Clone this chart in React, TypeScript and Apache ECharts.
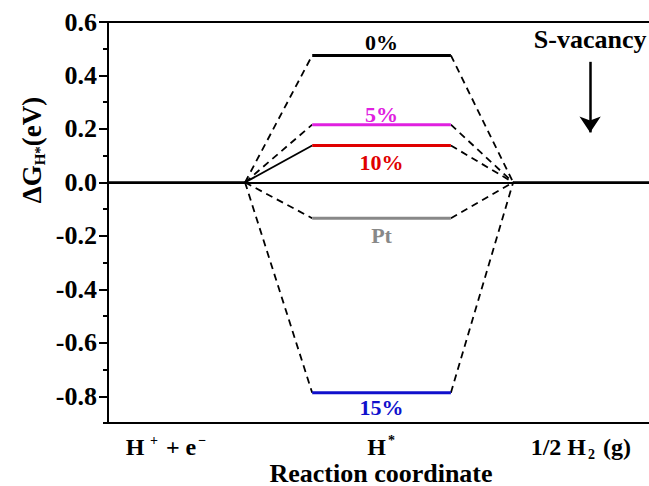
import React, { useEffect, useRef } from "react";
import * as echarts from "echarts";

// Reaction-coordinate stage positions (x, arbitrary units)
const xMin = 0;
const xMax = 10;
const junctionLeft = 2.51;
const levelStart = 3.74;
const levelEnd = 6.28;
const junctionRight = 7.42;

// Stage tick labels
const stageTickX = [1.08, 5.02, 8.66];
const stageTickLabels = ["{m|H}{sup| +}{m| + e}{sup|−}", "{m|H}{sup|*}", "{m|1/2 H}{sub|2}{m| (g)}"];

// ΔG_H* levels (eV)
const levelNames = ["0%", "5%", "10%", "Pt", "15%"];
const levelValues = [0.475, 0.216, 0.138, -0.134, -0.787];
const levelColors = ["#000000", "#e020e0", "#e00000", "#888888", "#1010cc"];
const leftSolid = [false, false, true, false, false];
const labelAbove = [true, true, false, false, false];
const labelGap = [2, -1, 6, 6, 4];

// Y axis ticks
const yMin = -0.9;
const yMax = 0.6;
const yMajorTicks = [-0.8, -0.6, -0.4, -0.2, 0.0, 0.2, 0.4, 0.6];

// S-vacancy annotation
const annotX = 8.83;
const annotTextY = 0.534;
const arrowFromY = 0.451;
const arrowToY = 0.187;

const FONT = '"Liberation Serif", "Times New Roman", serif';

export default function App() {
  const ref = useRef<HTMLDivElement>(null);
  useEffect(() => {
    document.body.style.margin = "0";
    const chart = echarts.init(ref.current!, null, { renderer: "svg" });
    const series: any[] = [];
    series.push({
      type: "line",
      data: [[xMin, 0], [junctionLeft, 0]],
      symbol: "none",
      lineStyle: { color: "#000", width: 2.5 },
    });
    series.push({
      type: "line",
      data: [[junctionRight, 0], [xMax, 0]],
      symbol: "none",
      lineStyle: { color: "#000", width: 2.5 },
    });
    levelValues.forEach((v, i) => {
      series.push({
        type: "line",
        data: [[junctionLeft, 0], [levelStart, v]],
        symbol: "none",
        lineStyle: { color: "#000", width: 1.8, type: leftSolid[i] ? "solid" : [7, 5] },
      });
      series.push({
        type: "line",
        data: [[levelEnd, v], [junctionRight, 0]],
        symbol: "none",
        lineStyle: { color: "#000", width: 1.8, type: [7, 5] },
      });
    });
    levelValues.forEach((v, i) => {
      series.push({
        type: "line",
        data: [[levelStart, v], [levelEnd, v]],
        symbol: "none",
        lineStyle: { color: levelColors[i], width: 3 },
      });
    });
    series.push({
      type: "scatter",
      symbolSize: 0,
      itemStyle: { opacity: 1 },
      data: levelValues.map((v, i) => ({
        value: [(levelStart + levelEnd) / 2, v],
        label: {
          show: true,
          formatter: levelNames[i],
          position: labelAbove[i] ? "top" : "bottom",
          distance: labelGap[i],
          color: levelColors[i],
          opacity: 1,
          fontFamily: FONT,
          fontWeight: "bold",
          fontSize: 22,
        },
      })),
    });
    series.push({
      type: "scatter",
      symbolSize: 0,
      itemStyle: { opacity: 1 },
      data: [
        {
          value: [annotX, annotTextY],
          label: {
            show: true,
            formatter: "S-vacancy",
            position: "inside",
            color: "#000",
            opacity: 1,
            fontFamily: FONT,
            fontWeight: "bold",
            fontSize: 26,
          },
        },
      ],
      markLine: {
        silent: true,
        symbol: ["none", "arrow"],
        symbolSize: 16,
        label: { show: false },
        lineStyle: { color: "#000", width: 2.5, type: "solid", opacity: 1 },
        itemStyle: { color: "#000", opacity: 1 },
        data: [[{ coord: [annotX, arrowFromY] }, { coord: [annotX, arrowToY] }]],
      },
    });

    const option: any = {
      animation: false,
      backgroundColor: "#ffffff",
      grid: {
        left: 108,
        top: 22,
        right: -5,
        bottom: 486 - 423,
        show: true,
        borderColor: "#000",
        borderWidth: 2,
        containLabel: false,
        outerBoundsMode: "none",
      },
      xAxis: {
        type: "value",
        min: xMin,
        max: xMax,
        splitLine: { show: false },
        axisLine: { lineStyle: { color: "#000", width: 2 } },
        axisTick: { show: false },
        axisLabel: {
          customValues: stageTickX,
          margin: 10,
          formatter: (val: number) => {
            let best = 0;
            stageTickX.forEach((x, i) => {
              if (Math.abs(x - val) < Math.abs(stageTickX[best] - val)) best = i;
            });
            return stageTickLabels[best];
          },
          rich: {
            m: { fontFamily: FONT, fontWeight: "bold", fontSize: 24, color: "#000", lineHeight: 28 },
            sup: { fontFamily: FONT, fontWeight: "bold", fontSize: 14, color: "#000", lineHeight: 14, verticalAlign: "top", padding: [0, 2, 0, 2] },
            sub: { fontFamily: FONT, fontWeight: "bold", fontSize: 14, color: "#000", lineHeight: 14, verticalAlign: "bottom", padding: [0, 2, 0, 2] },
          },
        },
        name: "Reaction coordinate",
        nameLocation: "middle",
        nameGap: 38,
        nameMoveOverlap: false,
        nameTextStyle: { fontFamily: FONT, fontWeight: "bold", fontSize: 26, color: "#000", lineHeight: 24 },
      },
      yAxis: [
        {
          type: "value",
          min: yMin,
          max: yMax,
          interval: 0.1,
          position: "left",
          splitLine: { show: false },
          axisLine: { show: true, lineStyle: { color: "#000", width: 2 } },
          axisTick: { show: true, length: 5, lineStyle: { color: "#000", width: 2 } },
          axisLabel: { show: false },
        },
        {
          type: "value",
          min: yMin,
          max: yMax,
          position: "left",
          splitLine: { show: false },
          axisLine: { show: false },
          axisTick: { show: true, length: 9, customValues: yMajorTicks, lineStyle: { color: "#000", width: 2 } },
          axisLabel: {
            customValues: yMajorTicks,
            margin: 11,
            formatter: (v: number) => v.toFixed(1),
            fontFamily: FONT,
            fontWeight: "bold",
            fontSize: 26,
            color: "#000",
          },
        },
      ],
      graphic: [
        {
          type: "text",
          x: 32,
          y: 150,
          rotation: Math.PI / 2,
          style: {
            text: "{a|ΔG}{s|H*}{a|(eV)}",
            align: "center",
            verticalAlign: "middle",
            rich: {
              a: { fontFamily: FONT, fontWeight: "bold", fontSize: 27, fill: "#000", lineHeight: 30 },
              s: { fontFamily: FONT, fontWeight: "bold", fontSize: 15, fill: "#000", lineHeight: 15, verticalAlign: "bottom" },
            },
          },
        },
      ],
      series,
    };
    chart.setOption(option);
    return () => chart.dispose();
  }, []);
  return <div ref={ref} style={{ width: 649, height: 486 }} />;
}
